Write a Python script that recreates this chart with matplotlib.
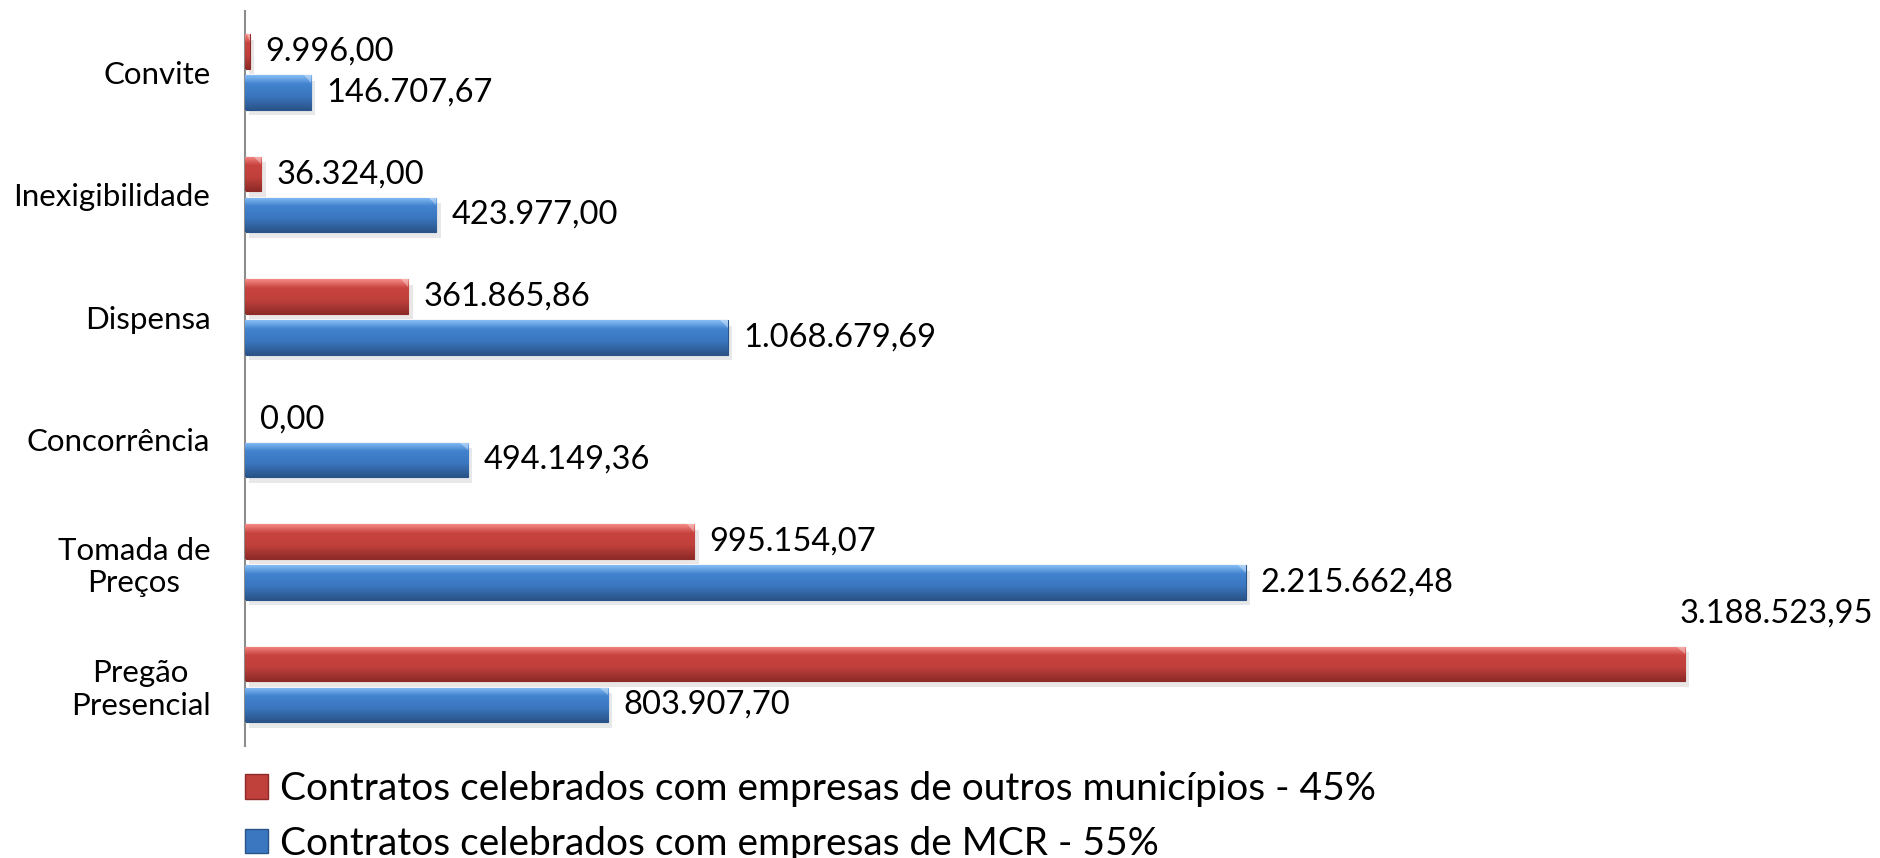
import matplotlib
matplotlib.use('Agg')
import matplotlib.pyplot as plt
import matplotlib.patches as patches
import matplotlib.patheffects as pe
import matplotlib.transforms as mtransforms
from matplotlib.colors import LinearSegmentedColormap
import numpy as np

plt.rcParams['font.family'] = ['Lato', 'DejaVu Sans']

# dados
categorias = ['Convite', 'Inexigibilidade', 'Dispensa', 'Concorrência',
              'Tomada de\nPreços', 'Pregão\nPresencial']
outros_municipios = [9996.00, 36324.00, 361865.86, 0.00, 995154.07, 3188523.95]
mcr = [146707.67, 423977.00, 1068679.69, 494149.36, 2215662.48, 803907.70]
legenda = ['Contratos celebrados com empresas de outros municípios - 45%',
           'Contratos celebrados com empresas de MCR - 55%']

# cores (topo claro, meio, base escura)
grad_vermelho = ['#f58a86', '#c8433f', '#c0403c', '#8e2b28']
grad_azul = ['#86bdf5', '#4283cf', '#3b76c0', '#2a5488']


def fmt_br(v):
    s = f'{v:,.2f}'
    return s.replace(',', 'X').replace('.', ',').replace('X', '.')


fig = plt.figure(figsize=(18.8, 8.58), dpi=100)
fig.patch.set_facecolor('white')
ax = fig.add_axes([245 / 1880, 1 - 745.75 / 858, 1580.7 / 1880, 735 / 858])

y = np.arange(len(categorias))
h = 0.28
off = 0.167

def desenha(valores, pos, grad):
    cmap = LinearSegmentedColormap.from_list('g', [(0, grad[0]), (0.25, grad[1]),
                                                   (0.6, grad[2]), (1, grad[3])])
    bars = ax.barh(pos, valores, height=h, color=grad[2], edgecolor=grad[3],
                   linewidth=0.8, zorder=2)
    g = np.linspace(0, 1, 64).reshape(-1, 1)
    for b in bars:
        x0, yb = b.get_x(), b.get_y()
        w = b.get_width()
        if w <= 0:
            b.set_visible(False)
            continue
        b.set_path_effects([pe.SimplePatchShadow(offset=(3, -4), alpha=0.1), pe.Normal()])
        im = ax.imshow(g, cmap=cmap, aspect='auto', extent=(x0, x0 + w, yb + h, yb),
                       zorder=3, interpolation='bicubic')
        im.set_clip_path(b)
        # bisel na ponta direita
        bev = min(17000, w * 0.5)
        tri = patches.Polygon([(x0 + w - bev, yb), (x0 + w, yb), (x0 + w, yb + 0.06)],
                              closed=True, facecolor='white', alpha=0.35,
                              edgecolor='none', zorder=4)
        ax.add_patch(tri)
    return bars

desenha(outros_municipios, y - off, grad_vermelho)
desenha(mcr, y + off, grad_azul)

ax.set_xlim(0, 3.5e6)
ax.set_ylim(5.5, -0.5)

# rótulos de valores
vmax = max(outros_municipios)
blend = mtransforms.blended_transform_factory(fig.transFigure, ax.transData)
for i, v in enumerate(outros_municipios):
    if v == vmax:
        ax.text(1873 / 1880, i - off - 0.41, fmt_br(v), transform=blend,
                ha='right', va='center', fontsize=23.5)
    else:
        ax.annotate(fmt_br(v), (v, i - off), xytext=(11, 0), textcoords='offset points',
                    ha='left', va='center', fontsize=23.5)
for i, v in enumerate(mcr):
    ax.annotate(fmt_br(v), (v, i + off), xytext=(11, 0), textcoords='offset points',
                ha='left', va='center', fontsize=23.5)

ax.set_yticks(y)
ax.set_yticklabels(categorias, fontsize=22.5)
for lab in ax.get_yticklabels():
    lab.set_multialignment('center')
ax.tick_params(axis='y', length=0, pad=25)
ax.set_xticks([])
for s in ['top', 'right', 'bottom']:
    ax.spines[s].set_visible(False)
ax.spines['left'].set_color('#8c8c8c')
ax.spines['left'].set_linewidth(1.5)

handles = [patches.Patch(facecolor=grad_vermelho[2], edgecolor=grad_vermelho[3], label=legenda[0]),
           patches.Patch(facecolor=grad_azul[2], edgecolor=grad_azul[3], label=legenda[1])]
fig.legend(handles=handles, loc='upper left', bbox_to_anchor=(245 / 1880, 1 - 771 / 858),
           frameon=False, fontsize=28, handlelength=0.6, handleheight=0.6,
           handletextpad=0.3, labelspacing=0.48, borderaxespad=0, borderpad=0)

fig.savefig('out.png', dpi=100, facecolor='white')
